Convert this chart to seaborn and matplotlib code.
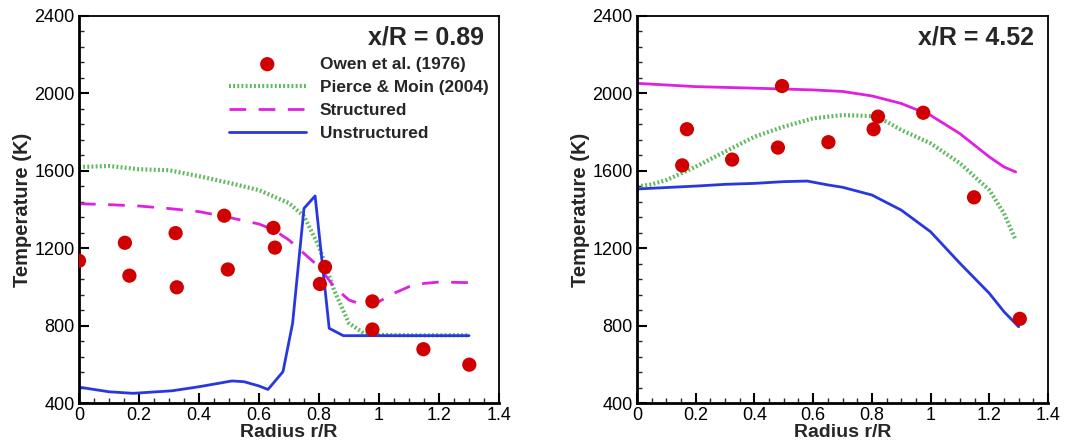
import numpy as np
import pandas as pd
import matplotlib
matplotlib.use("Agg")
import matplotlib.pyplot as plt
import seaborn as sns
from matplotlib.ticker import MultipleLocator

# ---------------- data: x/R = 0.89 ----------------
owen1_r = [0.0, 0.153, 0.168, 0.322, 0.326, 0.484, 0.496, 0.648, 0.653, 0.820, 0.803, 0.978, 0.978, 1.148, 1.301]
owen1_T = [1135, 1228, 1058, 1278, 998, 1368, 1090, 1305, 1203, 1103, 1015, 925, 780, 678, 598]

pierce1_r = [0.0, 0.05, 0.1, 0.2, 0.3, 0.4, 0.5, 0.6, 0.7, 0.75, 0.8, 0.85, 0.9, 0.95, 1.0, 1.1, 1.2, 1.3]
pierce1_T = [1620, 1622, 1625, 1608, 1603, 1572, 1538, 1500, 1433, 1365, 1208, 984, 812, 760, 752, 750, 750, 750]

struct1_r = [0.0, 0.1, 0.2, 0.3, 0.4, 0.5, 0.6, 0.65, 0.7, 0.75, 0.8, 0.85, 0.9, 0.95, 1.0, 1.05, 1.1, 1.15, 1.2, 1.3]
struct1_T = [1430, 1425, 1418, 1405, 1389, 1359, 1325, 1294, 1242, 1173, 1104, 1001, 932, 906, 924, 967, 1001, 1018, 1025, 1022]

unstr1_r = [0.0, 0.1, 0.18, 0.31, 0.4, 0.51, 0.55, 0.6, 0.63, 0.68, 0.712, 0.75, 0.787, 0.834, 0.881, 1.0, 1.3]
unstr1_T = [482, 458, 450, 463, 484, 514, 510, 488, 470, 562, 812, 1406, 1470, 786, 748, 748, 748]

# ---------------- data: x/R = 4.52 ----------------
owen2_r = [0.154, 0.170, 0.324, 0.480, 0.494, 0.652, 0.806, 0.821, 0.975, 1.148, 1.304]
owen2_T = [1628, 1815, 1658, 1720, 2038, 1748, 1815, 1880, 1900, 1463, 835]

pierce2_r = [0.0, 0.05, 0.1, 0.2, 0.3, 0.4, 0.5, 0.6, 0.7, 0.8, 0.85, 0.9, 1.0, 1.1, 1.2, 1.25, 1.29]
pierce2_T = [1518, 1530, 1552, 1621, 1699, 1776, 1828, 1871, 1888, 1883, 1854, 1811, 1742, 1639, 1501, 1380, 1242]

struct2_r = [0.0, 0.2, 0.4, 0.6, 0.7, 0.8, 0.9, 1.0, 1.1, 1.2, 1.25, 1.29]
struct2_T = [2052, 2035, 2027, 2018, 2010, 1987, 1948, 1887, 1792, 1672, 1620, 1594]

unstr2_r = [0.0, 0.2, 0.3, 0.4, 0.5, 0.58, 0.65, 0.7, 0.8, 0.9, 1.0, 1.1, 1.2, 1.25, 1.3]
unstr2_T = [1506, 1521, 1530, 1535, 1544, 1547, 1527, 1515, 1475, 1397, 1285, 1122, 967, 872, 794]

titles = ["x/R = 0.89", "x/R = 4.52"]
labels = ["Owen et al. (1976)", "Pierce & Moin (2004)", "Structured", "Unstructured"]
xtick_labels = ["0", "0.2", "0.4", "0.6", "0.8", "1", "1.2", "1.4"]

RED = "#d00000"
GREEN = "#5cba5c"
MAGENTA = "#e020e0"
BLUE = "#2838e0"

sns.set_theme(style="white")
plt.rcParams["font.family"] = ["Liberation Sans", "DejaVu Sans"]

fig = plt.figure(figsize=(10.74, 4.48), dpi=100)
ax1 = fig.add_axes([79 / 1074, 45 / 448, 420 / 1074, 387 / 448])
ax2 = fig.add_axes([637 / 1074, 45 / 448, 411 / 1074, 387 / 448])

def draw(ax, pr, pT, sr, sT, ur, uT, orr, oT, struct_ls):
    sns.lineplot(x=pr, y=pT, ax=ax, color=GREEN, lw=3.0, linestyle=(0, (0.45, 0.55)),
                 sort=False, estimator=None, label=labels[1])
    sns.lineplot(x=sr, y=sT, ax=ax, color=MAGENTA, lw=2.0, linestyle=struct_ls,
                 sort=False, estimator=None, label=labels[2])
    sns.lineplot(x=ur, y=uT, ax=ax, color=BLUE, lw=2.0, sort=False, estimator=None,
                 label=labels[3])
    sns.scatterplot(x=orr, y=oT, ax=ax, color=RED, s=105, edgecolor="none",
                    label=labels[0], zorder=5)

draw(ax1, pierce1_r, pierce1_T, struct1_r, struct1_T, unstr1_r, unstr1_T,
     owen1_r, owen1_T, (0, (6, 4.5)))
draw(ax2, pierce2_r, pierce2_T, struct2_r, struct2_T, unstr2_r, unstr2_T,
     owen2_r, owen2_T, "-")

for ax, t in zip([ax1, ax2], titles):
    ax.set_xlim(0, 1.4)
    ax.set_ylim(400, 2400)
    ax.xaxis.set_minor_locator(MultipleLocator(0.05))
    ax.yaxis.set_major_locator(MultipleLocator(400))
    ax.yaxis.set_minor_locator(MultipleLocator(80))
    ax.set_xticks(np.arange(0, 1.41, 0.2))
    ax.set_xticklabels(xtick_labels)
    ax.tick_params(which="major", direction="in", length=7, width=1.5,
                   labelsize=13, pad=3, top=False, right=False, bottom=True, left=True,
                   colors="black")
    ax.tick_params(which="minor", direction="in", length=3.5, width=1.0,
                   top=False, right=False, bottom=True, left=True)
    for side in ["left", "bottom"]:
        ax.spines[side].set_linewidth(2.0)
        ax.spines[side].set_color("black")
    for side in ["top", "right"]:
        ax.spines[side].set_linewidth(1.3)
        ax.spines[side].set_color("black")
    ax.set_xlabel("Radius r/R", fontsize=14, fontweight="bold", labelpad=0)
    ax.set_ylabel("Temperature (K)", fontsize=14.5, fontweight="bold", labelpad=2)
    ax.text(0.965, 0.975, t, transform=ax.transAxes, ha="right", va="top",
            fontsize=18, fontweight="bold")

# legend on left panel
h, l = ax1.get_legend_handles_labels()
order = [l.index(x) for x in labels]
leg = ax1.legend([h[i] for i in order], [l[i] for i in order], loc="upper right",
                 bbox_to_anchor=(1.012, 0.935), frameon=False,
                 prop={"weight": "bold", "size": 12.4}, handlelength=4.5,
                 handletextpad=0.8, labelspacing=0.47, markerscale=1.0)
ax2.get_legend().remove()

fig.savefig("out.png", dpi=100, facecolor="white")
